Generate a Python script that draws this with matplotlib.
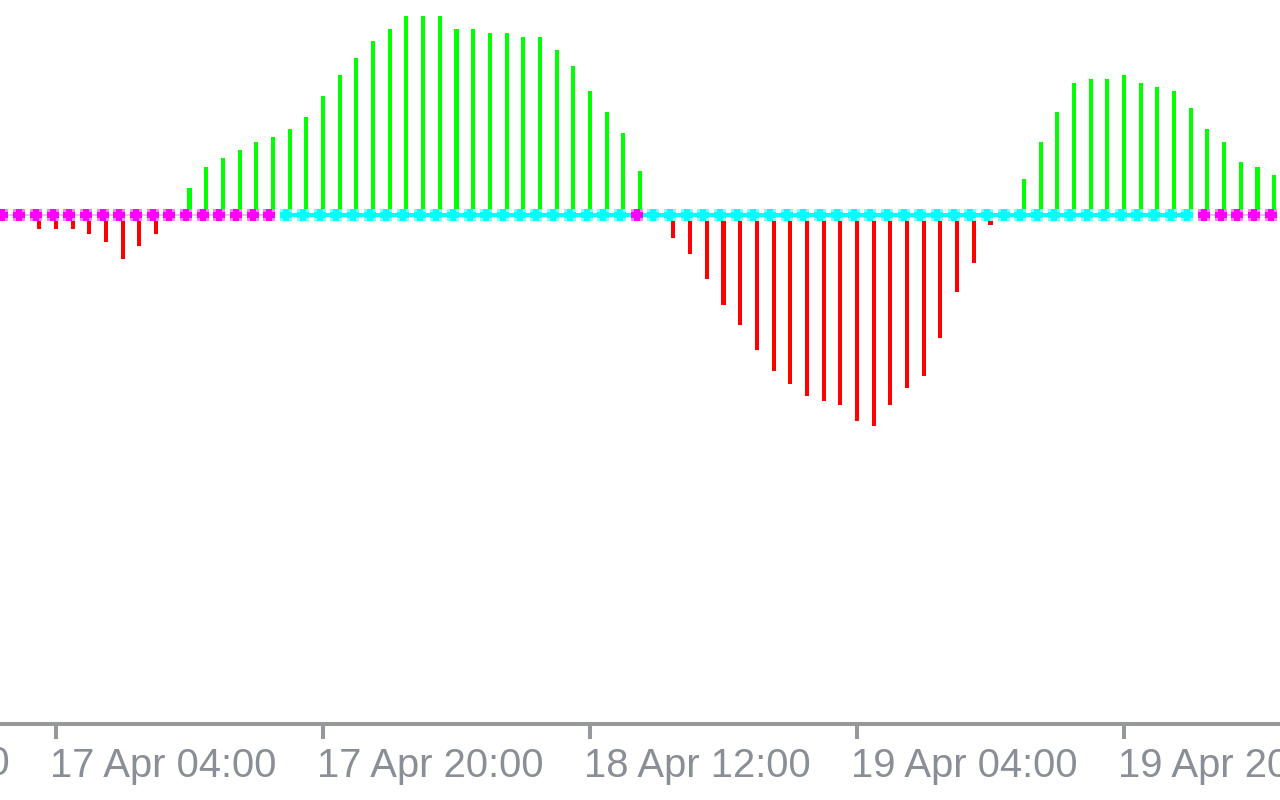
import matplotlib
matplotlib.use('Agg')
import matplotlib.pyplot as plt
import matplotlib.transforms as mtransforms
import numpy as np

# one bar per hour, hour 0 = 17 Apr 04:00
hours = list(range(-3, 74))

# oscillator histogram values
osc = [-1, -6, -14, -14, -14, -19, -27, -44, -31, -19,
       2, 27, 48, 57, 65, 73, 78, 86, 98, 119,
       140, 157, 174, 186, 199, 199, 199, 186, 186, 182,
       182, 178, 178, 165, 149, 124, 103, 82, 44, 3,
       -23, -39, -64, -90, -110, -135, -156, -169, -181, -186,
       -190, -206, -211, -190, -173, -161, -123, -77, -48, -10,
       4, 36, 73, 103, 132, 136, 136, 140, 132, 128,
       124, 107, 86, 73, 53, 48, 40]

# signal dots on the zero line: 1 = cyan, 0 = magenta
signal = [0, 0, 0, 0, 0, 0, 0, 0, 0, 0, 0, 0, 0, 0, 0, 0, 0,
          1, 1, 1, 1, 1, 1, 1, 1, 1, 1, 1, 1, 1, 1, 1, 1, 1, 1, 1, 1, 1,
          0,
          1, 1, 1, 1, 1, 1, 1, 1, 1, 1, 1, 1, 1, 1, 1, 1, 1, 1, 1, 1, 1,
          1, 1, 1, 1, 1, 1, 1, 1, 1, 1, 1, 1,
          0, 0, 0, 0, 0]

tick_hours = [-16, 0, 16, 32, 48, 64]
tick_labels = ['16 Apr 12:00', '17 Apr 04:00', '17 Apr 20:00',
               '18 Apr 12:00', '19 Apr 04:00', '19 Apr 20:00']

plt.rcParams['font.family'] = ['Liberation Sans', 'DejaVu Sans']
axis_grey = '#96989c'
text_grey = '#8a8e96'

fig = plt.figure(figsize=(12.8, 8), dpi=100)
ax = fig.add_axes([0, 76 / 800, 1, 724 / 800])

# histogram
bar_colors = ['#00ff00' if v > 0 else '#ff0000' for v in osc]
ax.bar(hours, osc, width=0.24, color=bar_colors, zorder=2)

# dots are drawn a few pixels left of the bars
shift = ax.transData + mtransforms.ScaledTranslation(-3.5 / 100, 0, fig.dpi_scale_trans)

hrs = np.array(hours, dtype=float)
sig = np.array(signal)
cyan_y = np.where(sig == 1, 0.0, np.nan)
mag_y = np.where(sig == 0, 0.0, np.nan)

# chunky dot: pale square with a solid plus on top
plus = [(-0.5, -1), (0.5, -1), (0.5, -0.5), (1, -0.5), (1, 0.5), (0.5, 0.5),
        (0.5, 1), (-0.5, 1), (-0.5, 0.5), (-1, 0.5), (-1, -0.5), (-0.5, -0.5)]
dot = 8.6

ax.plot(hrs, mag_y, color='#ffb8ff', lw=1.4, transform=shift, zorder=3)
cy = hrs[sig == 1]
ax.plot([cy.min(), cy.max()], [0, 0], color='#00ffff', lw=2.9, transform=shift, zorder=3)
for ys, solid, pale in [(cyan_y, '#00ffff', '#80ffff'), (mag_y, '#ff00ff', '#ff80ff')]:
    ax.plot(hrs, ys, ls='none', marker='s', ms=dot, mew=0, color=pale,
            transform=shift, zorder=4)
    ax.plot(hrs, ys, ls='none', marker=plus, ms=dot, mew=0, color=solid,
            transform=shift, zorder=5)

ax.set_xlim(-56 / 16.6875, (1280 - 56) / 16.6875)
ax.set_ylim(-509.5, 214.5)

for side in ['top', 'left', 'right']:
    ax.spines[side].set_visible(False)
ax.spines['bottom'].set_color(axis_grey)
ax.spines['bottom'].set_linewidth(2.9)
ax.set_yticks([])

ax.set_xticks(tick_hours[1:])
ax.set_xticklabels(tick_labels[1:])
ax.tick_params(axis='x', length=10.8, width=2.9, color=axis_grey, pad=5.8,
               labelsize=28.8, labelcolor=text_grey)
lbl_shift = mtransforms.ScaledTranslation(-6 / 100, 0, fig.dpi_scale_trans)
for lbl in ax.get_xticklabels():
    lbl.set_horizontalalignment('left')
    lbl.set_transform(lbl.get_transform() + lbl_shift)

# label of the tick left of the view, only its tail is visible
ax.annotate(tick_labels[0], xy=(tick_hours[0], 0), xycoords=('data', 'axes fraction'),
            xytext=(-6 * 0.72, -(15 + 6) * 0.72), textcoords='offset points',
            ha='left', va='top', fontsize=28.8, color=text_grey, annotation_clip=False)

fig.savefig('out.png', dpi=100)
